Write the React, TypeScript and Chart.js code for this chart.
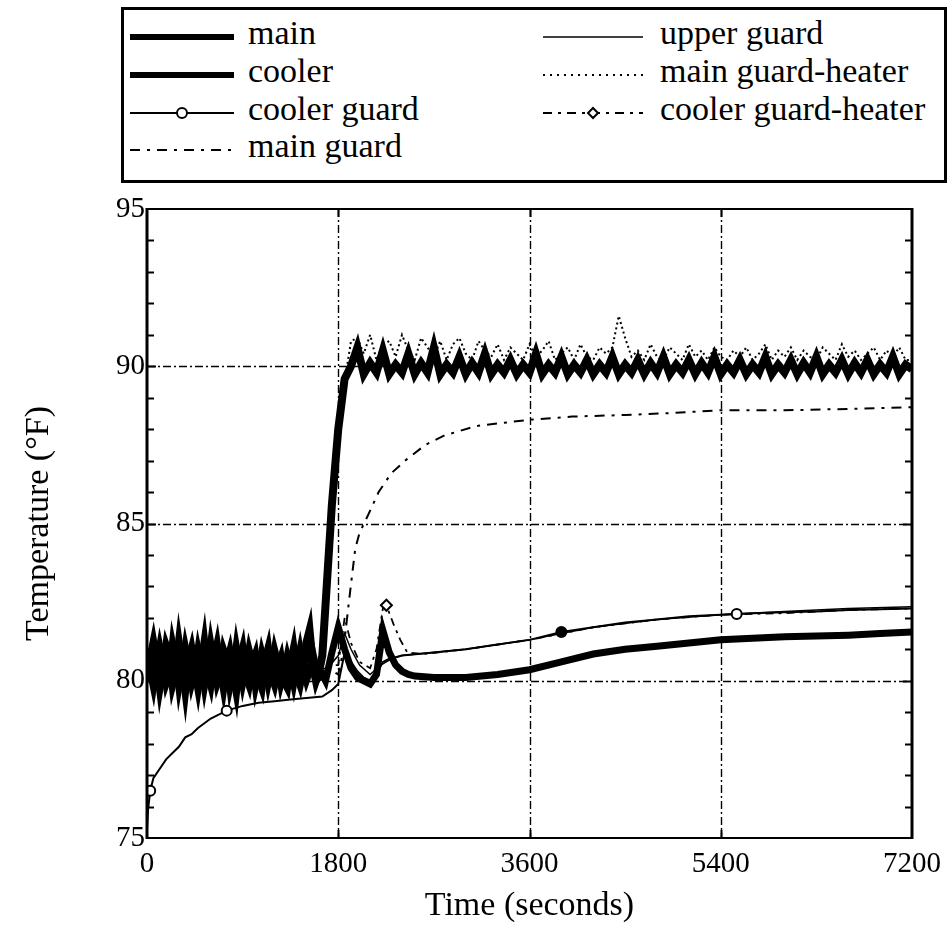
import React, { useEffect, useRef } from 'react';
import { Chart, registerables } from 'chart.js';

Chart.register(...registerables);

const FONT = '"Liberation Serif", "Times New Roman", Times, serif';

// ---------- axis definitions ----------
const X_MIN = 0;
const X_MAX = 7200;
const X_STEP = 1800;
const Y_MIN = 75;
const Y_MAX = 95;
const Y_STEP = 5;
const X_GRID = [1800, 3600, 5400];
const Y_GRID = [80, 85, 90];

// ---------- data ----------
// time grid (s) for the fast, noisy signals
const tFast = [
  0, 30, 60, 90, 120, 150, 180, 210, 240, 270, 300, 330, 360, 390, 420, 450, 480, 510, 540, 570, 600,
  630, 660, 690, 720, 750, 780, 810, 840, 870, 900, 930, 960, 990, 1020, 1050, 1080, 1110, 1140, 1170,
  1200, 1230, 1260, 1290, 1320, 1350, 1380, 1410, 1440, 1470, 1500, 1530, 1560, 1590, 1620, 1650,
  1680, 1740, 1800, 1860, 1920, 1980, 2040, 2100, 2160, 2220, 2280, 2340, 2400, 2460, 2520, 2580, 2640,
  2700, 2760, 2820, 2880, 2940, 3000, 3060, 3120, 3180, 3240, 3300, 3360, 3420, 3480, 3540, 3600, 3660,
  3720, 3780, 3840, 3900, 3960, 4020, 4080, 4140, 4200, 4260, 4320, 4380, 4440, 4500, 4560, 4620, 4680,
  4740, 4800, 4860, 4920, 4980, 5040, 5100, 5160, 5220, 5280, 5340, 5400, 5460, 5520, 5580, 5640, 5700,
  5760, 5820, 5880, 5940, 6000, 6060, 6120, 6180, 6240, 6300, 6360, 6420, 6480, 6540, 6600, 6660, 6720,
  6780, 6840, 6900, 6960, 7020, 7080, 7140, 7200,
];

const mainTemp = [
  80.0, 80.7, 81.2, 80.6, 79.8, 80.4, 81.1, 80.8, 79.9, 80.3,
  81.2, 80.5, 79.7, 80.6, 81.0, 80.4, 79.8, 80.5, 81.2, 80.3,
  79.9, 80.6, 81.1, 80.4, 79.8, 80.5, 80.9, 80.3, 79.7, 80.6,
  81.0, 80.2, 79.9, 80.5, 80.8, 80.1, 79.8, 80.6, 81.0, 80.2,
  79.9, 80.4, 80.7, 80.0, 79.8, 80.5, 81.0, 80.2, 79.9, 80.4,
  81.2, 81.6, 80.5, 80.0, 80.3, 80.8,
  82.4, 85.6, 88.0, 89.6, 90.0,
  90.6, 89.75, 90.1, 89.8, 90.5, 89.75, 90.05, 89.8, 90.4, 89.75,
  90.1, 89.8, 90.6, 89.75, 90.05, 89.8, 90.3, 89.75, 90.1, 89.8,
  90.4, 89.75, 90.05, 89.8, 90.2, 89.75, 90.05, 89.8, 90.4, 89.75,
  90.05, 89.8, 90.3, 89.75, 90.05, 89.8, 90.2, 89.75, 90.05, 89.8,
  90.3, 89.75, 90.05, 89.8, 90.2, 89.75, 90.1, 89.8, 90.3, 89.75,
  90.05, 89.8, 90.2, 89.75, 90.1, 89.8, 90.3, 89.75, 90.05, 89.8,
  90.2, 89.75, 90.05, 89.8, 90.3, 89.75, 90.05, 89.8, 90.2, 89.75,
  90.1, 89.8, 90.3, 89.75, 90.05, 89.8, 90.2, 89.75, 90.1, 89.8,
  90.2, 89.75, 90.05, 89.8, 90.3, 89.75, 90.05, 89.9,
];

const mainGuardHeaterTemp = [
  80.5, 80.3, 80.8, 80.4, 80.2, 80.6, 80.9, 80.4, 80.2, 80.5,
  80.8, 80.3, 80.1, 80.6, 80.7, 80.3, 80.2, 80.6, 80.8, 80.4,
  80.2, 80.5, 80.9, 80.3, 80.1, 80.5, 80.7, 80.4, 80.2, 80.6,
  80.8, 80.3, 80.2, 80.5, 80.7, 80.2, 80.1, 80.6, 80.8, 80.3,
  80.2, 80.4, 80.6, 80.2, 80.1, 80.5, 80.8, 80.3, 80.2, 80.4,
  80.9, 81.2, 80.6, 80.3, 80.5, 81.0,
  82.0, 85.0, 87.6, 89.5, 90.8,
  90.9, 90.4, 91.0, 90.2, 90.7, 90.8, 90.3, 91.0, 90.5, 90.2,
  90.9, 90.6, 90.3, 90.8, 90.2, 90.7, 90.9, 90.4, 90.2, 90.8,
  90.5, 90.3, 90.7, 90.2, 90.6, 90.4, 90.2, 90.7, 90.3, 90.5,
  90.8, 90.2, 90.4, 90.6, 90.2, 90.7, 90.3, 90.2, 90.6, 90.4,
  90.6, 91.6, 90.9, 90.3, 90.5, 90.2, 90.7, 90.3, 90.2, 90.6,
  90.4, 90.2, 90.7, 90.3, 90.5, 90.2, 90.6, 90.3, 90.2, 90.5,
  90.3, 90.6, 90.2, 90.4, 90.7, 90.2, 90.5, 90.3, 90.6, 90.2,
  90.5, 90.3, 90.2, 90.6, 90.4, 90.2, 90.7, 90.3, 90.5, 90.2,
  90.4, 90.6, 90.2, 90.5, 90.3, 90.6, 90.2, 90.2,
];

const tCooler = [
  0, 30, 60, 90, 120, 150, 180, 210, 240, 270, 300, 330, 360, 390, 420, 450, 480, 510, 540, 570, 600,
  630, 660, 690, 720, 750, 780, 810, 840, 870, 900, 930, 960, 990, 1020, 1050, 1080, 1110, 1140, 1170,
  1200, 1230, 1260, 1290, 1320, 1350, 1380, 1410, 1440, 1470, 1500, 1530, 1560, 1590, 1620, 1650,
  1680, 1740, 1800, 1860, 1920, 1980, 2040, 2100, 2160, 2220, 2280, 2340, 2400, 2460, 2520,
  2700, 3000, 3300, 3600, 3900, 4200, 4500, 4800, 5100, 5400, 5700, 6000, 6300, 6600, 6900, 7200,
];
const coolerTemp = [
  80.9, 80.3, 79.8, 80.5, 81.1, 80.6, 79.9, 80.2, 81.2, 80.7,
  79.8, 80.4, 81.1, 80.6, 79.9, 80.3, 81.0, 80.5, 79.8, 80.4,
  81.2, 80.6, 79.9, 80.2, 81.0, 80.7, 79.8, 80.3, 81.1, 80.5,
  79.9, 80.4, 81.0, 80.6, 79.8, 80.3, 80.9, 80.5, 79.9, 80.4,
  81.0, 80.6, 79.9, 80.3, 80.8, 80.4, 79.9, 80.5, 81.0, 80.4,
  80.0, 80.3, 80.9, 80.4, 80.1, 80.2,
  80.0, 80.9, 81.7, 81.0, 80.4, 80.1, 80.0, 79.9, 80.2, 81.6, 80.9, 80.5, 80.3, 80.2, 80.15,
  80.1, 80.1, 80.2, 80.35, 80.6, 80.85, 81.0, 81.1, 81.2, 81.3, 81.35, 81.4, 81.42, 81.45, 81.5, 81.55,
];

const tCoolerGuard = [
  0, 10, 30, 60, 120, 180, 240, 300, 360, 420, 480, 600, 750, 900, 1050, 1200, 1350, 1500, 1650, 1740,
  1800, 1860, 1920, 1980, 2040, 2100, 2160, 2220, 2280, 2340, 2400, 2700, 3000, 3300, 3600, 3900, 4200,
  4500, 4800, 5100, 5400, 5550, 5700, 6000, 6300, 6600, 6900, 7200,
];
const coolerGuardTemp = [
  75.3, 75.9, 76.5, 76.9, 77.2, 77.5, 77.7, 77.9, 78.2, 78.3, 78.5, 78.8, 79.05, 79.2, 79.3, 79.35,
  79.4, 79.45, 79.5, 79.7, 79.9, 80.9, 80.6, 80.3, 80.1, 80.0, 80.2, 80.6, 80.7, 80.75, 80.8, 80.9, 81.0,
  81.15, 81.3, 81.55, 81.7, 81.85, 81.95, 82.05, 82.1, 82.12, 82.15, 82.18, 82.2, 82.25, 82.27, 82.3,
];
const coolerGuardMarks = [30, 750, 3900, 5550];
const coolerGuardFilledMarks = [3900];

const tUpperGuard = [
  0, 600, 1200, 1700, 1800, 1860, 1920, 2000, 2100, 2200, 2300, 2400, 3000, 3600, 4200, 4800, 5400,
  6000, 6600, 7200,
];
const upperGuardTemp = [
  80.2, 80.3, 80.3, 80.4, 80.8, 81.5, 81.0, 80.5, 80.2, 80.5, 80.7, 80.8, 81.0, 81.3, 81.7, 81.95, 82.1,
  82.2, 82.3, 82.35,
];

const tMainGuard = [
  0, 600, 1200, 1750, 1800, 1850, 1900, 1960, 2000, 2085, 2180, 2300, 2430, 2620, 2800, 3100, 3600,
  4000, 4500, 4860, 5400, 6000, 6700, 7200,
];
const mainGuardTemp = [
  80.4, 80.4, 80.4, 80.3, 80.2, 81.0, 82.5, 84.2, 84.7, 85.3, 86.0, 86.6, 87.0, 87.5, 87.8, 88.1, 88.3,
  88.4, 88.45, 88.5, 88.6, 88.6, 88.65, 88.7,
];

const tCoolerGuardHeater = [
  0, 600, 1200, 1700, 1800, 1860, 1920, 2000, 2100, 2160, 2220, 2253, 2320, 2384, 2450, 2600, 3000,
  3600, 4200, 4800, 5400, 6000, 6600, 7200,
];
const coolerGuardHeaterTemp = [
  80.4, 80.5, 80.4, 80.5, 80.5, 82.0, 81.2, 80.6, 80.4, 81.0, 82.3, 82.4, 81.8, 81.3, 80.9, 80.85, 81.0,
  81.3, 81.7, 81.95, 82.1, 82.15, 82.25, 82.3,
];
const coolerGuardHeaterMarks = [2253];

const LEGEND_LEFT = ['main', 'cooler', 'cooler guard', 'main guard'];
const LEGEND_RIGHT = ['upper guard', 'main guard-heater', 'cooler guard-heater'];

const pts = (t: number[], v: number[]) => t.map((x, i) => ({ x, y: v[i] }));

// ---------- frame / grid plugin ----------
const framePlugin = {
  id: 'frame',
  beforeDatasetsDraw(chart: any) {
    const { ctx, chartArea, scales } = chart;
    const { left, right, top, bottom } = chartArea;
    ctx.save();
    ctx.strokeStyle = '#000';
    ctx.lineWidth = 1.4;
    ctx.setLineDash([8, 3, 2, 3]);
    X_GRID.forEach((v) => {
      const px = Math.round(scales.x.getPixelForValue(v)) + 0.5;
      ctx.beginPath();
      ctx.moveTo(px, top);
      ctx.lineTo(px, bottom);
      ctx.stroke();
    });
    Y_GRID.forEach((v) => {
      const py = Math.round(scales.y.getPixelForValue(v)) + 0.5;
      ctx.beginPath();
      ctx.moveTo(left, py);
      ctx.lineTo(right, py);
      ctx.stroke();
    });
    ctx.restore();
  },
  afterDatasetsDraw(chart: any) {
    const { ctx, chartArea, scales } = chart;
    const { left, right, top, bottom } = chartArea;
    ctx.save();
    ctx.strokeStyle = '#000';
    ctx.setLineDash([]);
    ctx.lineWidth = 2;
    for (let v = Y_MIN + 1; v < Y_MAX; v++) {
      const py = Math.round(scales.y.getPixelForValue(v)) + 0.5;
      const len = v % Y_STEP === 0 ? 9 : 7;
      ctx.beginPath();
      ctx.moveTo(left, py);
      ctx.lineTo(left + len, py);
      ctx.moveTo(right, py);
      ctx.lineTo(right - len, py);
      ctx.stroke();
    }
    for (let v = X_MIN + X_STEP; v < X_MAX; v += X_STEP) {
      const px = Math.round(scales.x.getPixelForValue(v)) + 0.5;
      ctx.beginPath();
      ctx.moveTo(px, bottom);
      ctx.lineTo(px, bottom - 8);
      ctx.moveTo(px, top);
      ctx.lineTo(px, top + 8);
      ctx.stroke();
    }
    ctx.lineWidth = 2;
    ctx.beginPath();
    ctx.moveTo(left, top);
    ctx.lineTo(right, top);
    ctx.moveTo(left, bottom);
    ctx.lineTo(right, bottom);
    ctx.stroke();
    ctx.lineWidth = 3;
    ctx.beginPath();
    ctx.moveTo(left, top - 1);
    ctx.lineTo(left, bottom + 1);
    ctx.moveTo(right, top - 1);
    ctx.lineTo(right, bottom + 1);
    ctx.stroke();
    ctx.restore();
  },
};

function LegendSample({ kind, width }: { kind: string; width: number }) {
  const h = 20;
  const c = h / 2;
  const mid = width / 2;
  if (kind === 'main' || kind === 'cooler') {
    return (
      <svg width={width} height={h} style={{ display: 'block' }}>
        <line x1={0} y1={c} x2={width} y2={c} stroke="#000" strokeWidth={6} />
      </svg>
    );
  }
  if (kind === 'cooler guard') {
    return (
      <svg width={width} height={h} style={{ display: 'block' }}>
        <line x1={0} y1={c} x2={width} y2={c} stroke="#000" strokeWidth={2.2} />
        <circle cx={mid} cy={c} r={5} fill="#fff" stroke="#000" strokeWidth={2} />
      </svg>
    );
  }
  if (kind === 'main guard') {
    return (
      <svg width={width} height={h} style={{ display: 'block' }}>
        <line x1={0} y1={c} x2={width} y2={c} stroke="#000" strokeWidth={2} strokeDasharray="10 7 3 7" />
      </svg>
    );
  }
  if (kind === 'upper guard') {
    return (
      <svg width={width} height={h} style={{ display: 'block' }}>
        <line x1={0} y1={c} x2={width} y2={c} stroke="#000" strokeWidth={1.5} />
      </svg>
    );
  }
  if (kind === 'main guard-heater') {
    return (
      <svg width={width} height={h} style={{ display: 'block' }}>
        <line x1={0} y1={c} x2={width} y2={c} stroke="#000" strokeWidth={2} strokeDasharray="2 5" />
      </svg>
    );
  }
  return (
    <svg width={width} height={h} style={{ display: 'block' }}>
      <line x1={0} y1={c} x2={width} y2={c} stroke="#000" strokeWidth={2} strokeDasharray="9 6 3 6" />
      <polygon
        points={`${mid},${c - 5} ${mid + 5},${c} ${mid},${c + 5} ${mid - 5},${c}`}
        fill="#fff"
        stroke="#000"
        strokeWidth={2}
      />
    </svg>
  );
}

function Legend() {
  const rows = [37, 75, 113, 150];
  const fontSize = 34;
  const item = (label: string, x: number, sw: number, tx: number, y: number) => (
    <React.Fragment key={label}>
      <div style={{ position: 'absolute', left: x, top: y - 10, width: sw, height: 20 }}>
        <LegendSample kind={label} width={sw} />
      </div>
      <div
        style={{
          position: 'absolute',
          left: tx,
          top: y - fontSize * 0.62,
          fontSize,
          lineHeight: `${fontSize}px`,
          fontFamily: FONT,
          color: '#000',
          whiteSpace: 'nowrap',
        }}
      >
        {label}
      </div>
    </React.Fragment>
  );
  return (
    <div
      style={{
        position: 'absolute',
        left: 121,
        top: 7,
        width: 826,
        height: 176,
        border: '3px solid #000',
        boxSizing: 'border-box',
        background: '#fff',
      }}
    >
      <div style={{ position: 'absolute', left: -124, top: -10 }}>
        {LEGEND_LEFT.map((l, i) => item(l, 130, 104, 248, rows[i]))}
        {LEGEND_RIGHT.map((l, i) => item(l, 543, 100, 660, rows[i]))}
      </div>
    </div>
  );
}

export default function App() {
  const ref = useRef<HTMLCanvasElement>(null);

  useEffect(() => {
    if (!ref.current) return;
    const base = {
      borderColor: '#000',
      backgroundColor: '#000',
      fill: false,
      tension: 0,
      pointRadius: 0,
      pointHoverRadius: 0,
    };
    const chart = new Chart(ref.current, {
      type: 'line',
      data: {
        datasets: [
          {
            ...base,
            label: 'cooler guard',
            data: pts(tCoolerGuard, coolerGuardTemp),
            borderWidth: 2,
            pointRadius: tCoolerGuard.map((t) => (coolerGuardMarks.includes(t) ? 5 : 0)),
            pointStyle: 'circle',
            pointBackgroundColor: tCoolerGuard.map((t) =>
              coolerGuardFilledMarks.includes(t) ? '#000' : '#fff'
            ),
            pointBorderColor: '#000',
            pointBorderWidth: 2,
          },
          {
            ...base,
            label: 'cooler guard-heater',
            data: pts(tCoolerGuardHeater, coolerGuardHeaterTemp),
            borderWidth: 1.8,
            borderDash: [8, 5, 3, 5],
            pointRadius: tCoolerGuardHeater.map((t) => (coolerGuardHeaterMarks.includes(t) ? 5.5 : 0)),
            pointStyle: 'rectRot',
            pointBackgroundColor: '#fff',
            pointBorderColor: '#000',
            pointBorderWidth: 2,
          },
          {
            ...base,
            label: 'upper guard',
            data: pts(tUpperGuard, upperGuardTemp),
            borderWidth: 1.5,
          },
          {
            ...base,
            label: 'main guard',
            data: pts(tMainGuard, mainGuardTemp),
            borderWidth: 2,
            borderDash: [10, 7, 3, 7],
          },
          {
            ...base,
            label: 'main guard-heater',
            data: pts(tFast, mainGuardHeaterTemp),
            borderWidth: 2,
            borderDash: [2, 3],
          },
          {
            ...base,
            label: 'cooler',
            data: pts(tCooler, coolerTemp),
            borderWidth: 7,
          },
          {
            ...base,
            label: 'main',
            data: pts(tFast, mainTemp),
            borderWidth: 8,
          },
        ],
      },
      options: {
        animation: false,
        responsive: false,
        maintainAspectRatio: false,
        events: [],
        layout: { padding: { top: 209, right: 33, left: 0, bottom: 0 } },
        plugins: {
          legend: { display: false },
          tooltip: { enabled: false },
          title: { display: false },
        },
        scales: {
          x: {
            type: 'linear',
            min: X_MIN,
            max: X_MAX,
            grid: { display: false, drawTicks: false },
            border: { display: false },
            ticks: {
              stepSize: X_STEP,
              color: '#000',
              padding: 9,
              maxRotation: 0,
              autoSkip: false,
              font: { family: FONT, size: 29 },
              callback: (v: any) => String(v),
            },
            title: {
              display: true,
              text: 'Time (seconds)',
              color: '#000',
              font: { family: FONT, size: 34 },
              padding: { top: 0, bottom: 13 },
            },
            afterFit: (scale: any) => {
              scale.height = 101;
            },
          },
          y: {
            type: 'linear',
            min: Y_MIN,
            max: Y_MAX,
            grid: { display: false, drawTicks: false },
            border: { display: false },
            ticks: {
              stepSize: Y_STEP,
              color: '#000',
              padding: 2,
              font: { family: FONT, size: 29 },
              callback: (v: any) => String(v),
            },
            title: {
              display: true,
              text: 'Temperature (°F)',
              color: '#000',
              font: { family: FONT, size: 34 },
              padding: { top: 19, bottom: 0 },
            },
            afterFit: (scale: any) => {
              scale.width = 147;
            },
          },
        },
      },
      plugins: [framePlugin],
    });
    return () => chart.destroy();
  }, []);

  return (
    <div
      style={{
        position: 'absolute',
        left: 0,
        top: 0,
        width: 950,
        height: 939,
        background: '#fff',
        overflow: 'hidden',
      }}
    >
      <canvas
        ref={ref}
        width={950}
        height={939}
        style={{ position: 'absolute', left: 0, top: 0, width: 950, height: 939 }}
      />
      <Legend />
    </div>
  );
}
